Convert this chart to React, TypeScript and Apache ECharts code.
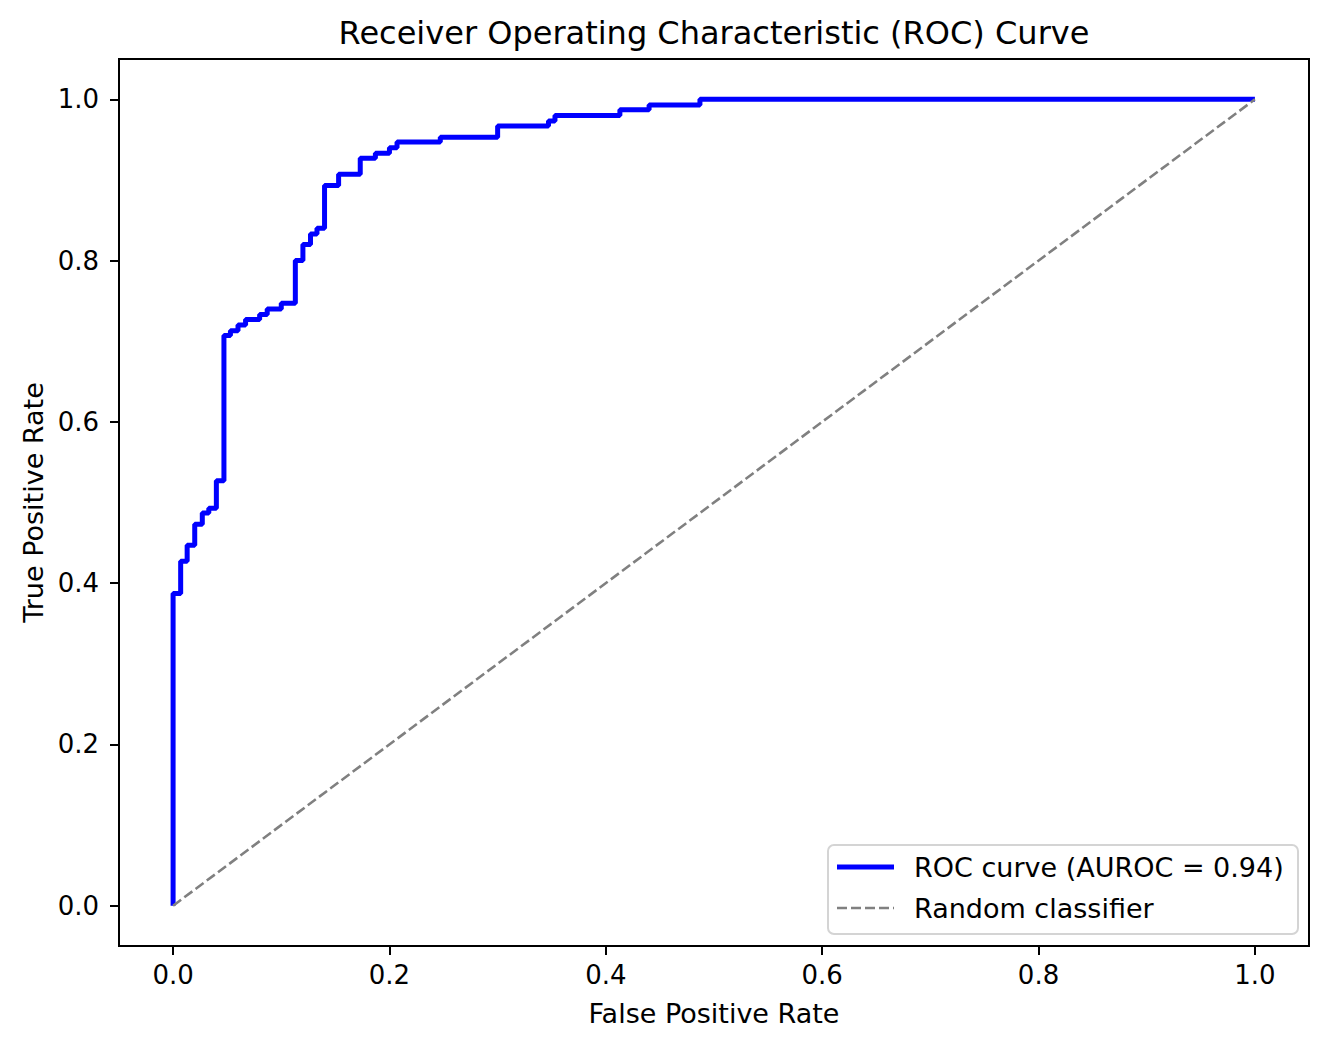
import React, { useEffect, useRef } from 'react';
import * as echarts from 'echarts';

// ROC steps: false positive rate where each jump happens, true positive rate after it
const stepFpr = [
  0, 0.007, 0.013, 0.02, 0.027, 0.033, 0.04, 0.047, 0.053, 0.06, 0.067, 0.08, 0.087, 0.1,
  0.113, 0.12, 0.127, 0.133, 0.14, 0.153, 0.173, 0.187, 0.2, 0.207, 0.247, 0.3, 0.347,
  0.353, 0.413, 0.44, 0.487,
];
const stepTpr = [
  0.387, 0.427, 0.447, 0.473, 0.487, 0.493, 0.527, 0.707, 0.713, 0.72, 0.727, 0.733, 0.74,
  0.747, 0.8, 0.82, 0.833, 0.84, 0.893, 0.907, 0.927, 0.933, 0.94, 0.947, 0.953, 0.967,
  0.973, 0.98, 0.987, 0.993, 1.0,
];
const rocStart = [0, 0];
const rocEnd = [1, 1];
const diagonal = [
  [0, 0],
  [1, 1],
];
const tickValues = [0, 0.2, 0.4, 0.6, 0.8, 1.0];
const rocName = 'ROC curve (AUROC = 0.94)';
const randomName = 'Random classifier';

const FONT = 'DejaVu Sans';
const BLUE = '#0000ff';
const GREY = '#808080';
const DASH = [10, 4];

const App = () => {
  const chartRef = useRef(null);

  useEffect(() => {
    const chart = echarts.init(chartRef.current, null, { renderer: 'svg' });

    // build the staircase vertices from the step lists
    const roc: number[][] = [rocStart];
    let prev = rocStart[1];
    stepFpr.forEach((x, i) => {
      roc.push([x, prev]);
      roc.push([x, stepTpr[i]]);
      prev = stepTpr[i];
    });
    roc.push(rocEnd);

    const axisCommon = {
      type: 'value',
      min: -0.05,
      max: 1.05,
      nameLocation: 'middle',
      nameTextStyle: { fontFamily: FONT, fontSize: 27, color: '#000' },
      axisLine: { show: true, onZero: false, lineStyle: { color: '#000', width: 2 } },
      axisTick: {
        show: true,
        inside: false,
        length: 9,
        lineStyle: { color: '#000', width: 2 },
        customValues: tickValues,
      },
      axisLabel: {
        fontFamily: FONT,
        fontSize: 26,
        color: '#000',
        customValues: tickValues,
        formatter: (v: number) => v.toFixed(1),
      },
      splitLine: { show: false },
    };

    // legend box drawn by hand so the line samples match the series styles
    const lgX = 827;
    const lgY = 844;
    const legend = {
      type: 'group',
      left: lgX,
      top: lgY,
      children: [
        {
          type: 'rect',
          shape: { x: 0, y: 0, width: 470, height: 89, r: 6 },
          style: { fill: 'rgba(255,255,255,0.8)', stroke: '#d4d4d4', lineWidth: 2 },
        },
        { type: 'line', shape: { x1: 9, y1: 22, x2: 66, y2: 22 }, style: { stroke: BLUE, lineWidth: 5 } },
        {
          type: 'text',
          x: 86,
          y: 22,
          style: { text: rocName, font: `27px "${FONT}"`, fill: '#000', verticalAlign: 'middle' },
        },
        {
          type: 'line',
          shape: { x1: 9, y1: 63, x2: 66, y2: 63 },
          style: { stroke: GREY, lineWidth: 2.6, lineDash: DASH },
        },
        {
          type: 'text',
          x: 86,
          y: 63,
          style: { text: randomName, font: `27px "${FONT}"`, fill: '#000', verticalAlign: 'middle' },
        },
      ],
    };

    chart.setOption({
      animation: false,
      backgroundColor: '#fff',
      title: {
        text: 'Receiver Operating Characteristic (ROC) Curve',
        left: 709,
        top: 12,
        textAlign: 'center',
        textStyle: { fontFamily: FONT, fontSize: 32, fontWeight: 'normal', color: '#000' },
      },
      grid: {
        left: 119,
        top: 59,
        right: 19,
        bottom: 103,
        show: true,
        borderColor: '#000',
        borderWidth: 2,
        backgroundColor: 'transparent',
      },
      xAxis: {
        ...axisCommon,
        name: 'False Positive Rate',
        nameGap: 54,
        axisLabel: { ...axisCommon.axisLabel, margin: 16 },
      },
      yAxis: {
        ...axisCommon,
        name: 'True Positive Rate',
        nameGap: 72,
        axisLabel: { ...axisCommon.axisLabel, margin: 20 },
      },
      graphic: [legend],
      series: [
        {
          name: rocName,
          type: 'line',
          data: roc,
          symbol: 'none',
          z: 3,
          color: BLUE,
          lineStyle: { color: BLUE, width: 5 },
        },
        {
          name: randomName,
          type: 'line',
          data: diagonal,
          symbol: 'none',
          z: 4,
          color: GREY,
          lineStyle: { color: GREY, width: 2.6, type: DASH },
        },
      ],
    });

    return () => {
      chart.dispose();
    };
  }, []);

  return (
    <div
      ref={chartRef}
      style={{ position: 'absolute', left: 0, top: 0, width: '1328px', height: '1049px' }}
    />
  );
};

export default App;
